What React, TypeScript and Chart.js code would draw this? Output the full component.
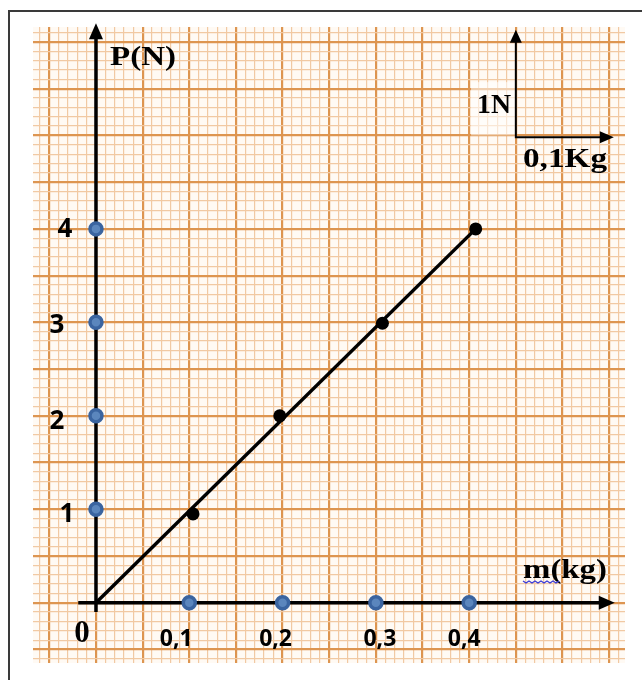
import React, { useEffect, useRef } from 'react';
import { Chart, registerables } from 'chart.js';

Chart.register(...registerables);

// ---- data ----
const X_TICKS = [0.1, 0.2, 0.3, 0.4];
const X_TICK_LABELS = ['0,1', '0,2', '0,3', '0,4'];
const Y_TICKS = [1, 2, 3, 4];
const Y_TICK_LABELS = ['1', '2', '3', '4'];
const MASS_KG = [0.104, 0.197, 0.307, 0.407];
const WEIGHT_N = [0.95, 2.0, 2.99, 4.0];
const FIT_X = [0, 0.407];
const FIT_Y = [0, 4.0];
const X_AXIS_TITLE = 'm(kg)';
const Y_AXIS_TITLE = 'P(N)';
const ORIGIN_LABEL = '0';
const SCALE_N_LABEL = '1N';
const SCALE_KG_LABEL = '0,1Kg';

// ---- layout / style constants ----
const W = 642;
const H = 680;
const X_MIN = -0.0675;
const X_MAX = 0.567;
const Y_MIN = -0.645;
const Y_MAX = 6.16;
const X_TICK_NUDGE = [-13, -7, 4, -5];
const Y_TICK_NUDGE_X = [-29, -39, -39, -31];
const Y_TICK_NUDGE_Y = [3.5, 4, 1, -1];
const MAJOR_COLOR = '#dd9550';
const MINOR_COLOR = '#f1c9a3';
const PAPER = '#fffaf4';
const SERIF = '"Liberation Serif", "Times New Roman", serif';
const SANS = '"Open Sans", "Noto Sans", sans-serif';

const isMultiple = (v: number, step: number) => Math.abs(v / step - Math.round(v / step)) < 1e-6;

function arrowHead(ctx: CanvasRenderingContext2D, tx: number, ty: number, dir: 'up' | 'right', len: number, half: number) {
  ctx.beginPath();
  if (dir === 'up') {
    ctx.moveTo(tx, ty);
    ctx.lineTo(tx - half, ty + len);
    ctx.lineTo(tx + half, ty + len);
  } else {
    ctx.moveTo(tx, ty);
    ctx.lineTo(tx - len, ty - half);
    ctx.lineTo(tx - len, ty + half);
  }
  ctx.closePath();
  ctx.fill();
}

function stretchedText(ctx: CanvasRenderingContext2D, str: string, x: number, y: number, font: string, width?: number) {
  ctx.save();
  ctx.font = font;
  ctx.textAlign = 'left';
  ctx.textBaseline = 'alphabetic';
  const w = ctx.measureText(str).width;
  const sx = width ? width / w : 1;
  ctx.translate(x, y);
  ctx.scale(sx, 1);
  ctx.fillText(str, 0, 0);
  ctx.restore();
}

const paperPlugin = {
  id: 'paper',
  beforeDraw(chart: any) {
    const { ctx, chartArea } = chart;
    ctx.save();
    ctx.fillStyle = '#ffffff';
    ctx.fillRect(0, 0, chart.width, chart.height);
    ctx.fillStyle = PAPER;
    ctx.fillRect(chartArea.left, chartArea.top, chartArea.right - chartArea.left, chartArea.bottom - chartArea.top);
    // page frame
    ctx.strokeStyle = '#3a3a3a';
    ctx.lineWidth = 2;
    ctx.beginPath();
    ctx.moveTo(W, 11);
    ctx.lineTo(9, 11);
    ctx.lineTo(9, H);
    ctx.stroke();
    ctx.restore();
  },
  beforeDatasetsDraw(chart: any) {
    const { ctx } = chart;
    const xs = chart.scales.x;
    const ys = chart.scales.y;
    const px = (v: number) => xs.getPixelForValue(v);
    const py = (v: number) => ys.getPixelForValue(v);
    ctx.save();
    // faded patch behind the 1N label
    ctx.fillStyle = 'rgba(255,255,255,0.55)';
    ctx.fillRect(px(0.402), py(5.57), px(0.45) - px(0.402), py(5.0) - py(5.57));

    ctx.strokeStyle = '#000';
    ctx.fillStyle = '#000';
    ctx.lineCap = 'butt';
    // main y axis
    ctx.lineWidth = 3.5;
    ctx.beginPath();
    ctx.moveTo(px(0), py(-0.1));
    ctx.lineTo(px(0), py(6.2) + 14);
    ctx.stroke();
    arrowHead(ctx, px(0), py(6.2), 'up', 16, 7);
    // main x axis
    ctx.beginPath();
    ctx.moveTo(px(-0.019), py(0));
    ctx.lineTo(px(0.556) - 14, py(0));
    ctx.stroke();
    arrowHead(ctx, px(0.556), py(0), 'right', 16, 7);

    // small unit axes (top right)
    ctx.lineWidth = 2;
    ctx.beginPath();
    ctx.moveTo(px(0.45), py(6.13) + 10);
    ctx.lineTo(px(0.45), py(4.98));
    ctx.lineTo(px(0.555) - 10, py(4.98));
    ctx.stroke();
    arrowHead(ctx, px(0.45), py(6.13), 'up', 13, 6);
    arrowHead(ctx, px(0.555), py(4.98), 'right', 14, 6);
    ctx.restore();
  },
  afterDatasetsDraw(chart: any) {
    const { ctx } = chart;
    const xs = chart.scales.x;
    const ys = chart.scales.y;
    const px = (v: number) => xs.getPixelForValue(v);
    const py = (v: number) => ys.getPixelForValue(v);
    ctx.save();
    ctx.fillStyle = '#000';
    // tick labels (sans, bold)
    ctx.font = `bold 23px ${SANS}`;
    ctx.textAlign = 'center';
    ctx.textBaseline = 'alphabetic';
    X_TICKS.forEach((v, i) => {
      ctx.fillText(X_TICK_LABELS[i], px(v) + X_TICK_NUDGE[i], py(0) + 43);
    });
    ctx.font = `bold 26px ${SANS}`;
    Y_TICKS.forEach((v, i) => {
      ctx.fillText(Y_TICK_LABELS[i], px(0) + Y_TICK_NUDGE_X[i], py(v) + Y_TICK_NUDGE_Y[i] + 9.5);
    });
    // origin
    ctx.font = `bold 31px ${SERIF}`;
    ctx.fillText(ORIGIN_LABEL, px(0) - 14, py(0) + 39);

    // axis titles (serif, bold)
    stretchedText(ctx, Y_AXIS_TITLE, px(0) + 14, 65, `bold 27px ${SERIF}`, 66);
    stretchedText(ctx, X_AXIS_TITLE, 523, 578, `bold 27px ${SERIF}`, 84);
    stretchedText(ctx, SCALE_N_LABEL, 477, 113, `bold 27px ${SERIF}`, 34);
    stretchedText(ctx, SCALE_KG_LABEL, 523, 167, `bold 28px ${SERIF}`, 84);

    // spell-check squiggle under the "m"
    ctx.strokeStyle = '#3b3bd6';
    ctx.lineWidth = 1.3;
    ctx.beginPath();
    for (let i = 0; i <= 12; i++) {
      const x = 523 + i * 3;
      const y = 581 + (i % 2 === 0 ? 0 : 2);
      if (i === 0) ctx.moveTo(x, y); else ctx.lineTo(x, y);
    }
    ctx.stroke();
    ctx.restore();
  },
};

export default function App() {
  const ref = useRef<HTMLCanvasElement | null>(null);

  useEffect(() => {
    if (!ref.current) return;
    const measured = MASS_KG.map((x, i) => ({ x, y: WEIGHT_N[i] }));
    const fit = FIT_X.map((x, i) => ({ x, y: FIT_Y[i] }));
    const xMarks = X_TICKS.map((x) => ({ x, y: 0 }));
    const yMarks = Y_TICKS.map((y) => ({ x: 0, y }));

    const chart = new Chart(ref.current, {
      type: 'scatter',
      data: {
        datasets: [
          {
            label: 'mesures',
            data: measured,
            backgroundColor: '#000',
            borderColor: '#000',
            pointRadius: 6.5,
            borderWidth: 0,
            order: 0,
          },
          {
            label: 'graduations x',
            data: xMarks,
            backgroundColor: '#5b86bd',
            borderColor: '#3a64a0',
            borderWidth: 3.5,
            pointRadius: 6,
            order: 1,
          },
          {
            label: 'graduations y',
            data: yMarks,
            backgroundColor: '#5b86bd',
            borderColor: '#3a64a0',
            borderWidth: 3.5,
            pointRadius: 6,
            order: 1,
          },
          {
            label: 'droite',
            data: fit,
            showLine: true,
            borderColor: '#000',
            borderWidth: 3.5,
            pointRadius: 0,
            order: 2,
          } as any,
        ],
      },
      options: {
        animation: false,
        responsive: false,
        devicePixelRatio: 1,
        events: [],
        layout: { autoPadding: false, padding: { left: 33, top: 27, right: 17, bottom: 17 } },
        plugins: { legend: { display: false }, tooltip: { enabled: false }, title: { display: false } },
        scales: {
          x: {
            type: 'linear',
            min: X_MIN,
            max: X_MAX,
            border: { display: false },
            ticks: { display: false, stepSize: 0.01, includeBounds: false },
            grid: {
              drawTicks: false,
              color: (c: any) => (isMultiple(c.tick.value, 0.05) ? MAJOR_COLOR : MINOR_COLOR),
              lineWidth: (c: any) => (isMultiple(c.tick.value, 0.05) ? 2.2 : 1.2),
            },
          },
          y: {
            type: 'linear',
            min: Y_MIN,
            max: Y_MAX,
            border: { display: false },
            ticks: { display: false, stepSize: 0.1, includeBounds: false },
            grid: {
              drawTicks: false,
              color: (c: any) => (isMultiple(c.tick.value, 0.5) ? MAJOR_COLOR : MINOR_COLOR),
              lineWidth: (c: any) => (isMultiple(c.tick.value, 0.5) ? 2.2 : 1.2),
            },
          },
        },
      },
      plugins: [paperPlugin],
    });
    return () => chart.destroy();
  }, []);

  return (
    <div style={{ position: 'fixed', left: 0, top: 0, width: W, height: H, background: '#fff' }}>
      <canvas ref={ref} width={W} height={H} style={{ display: 'block', width: W, height: H }} />
    </div>
  );
}
